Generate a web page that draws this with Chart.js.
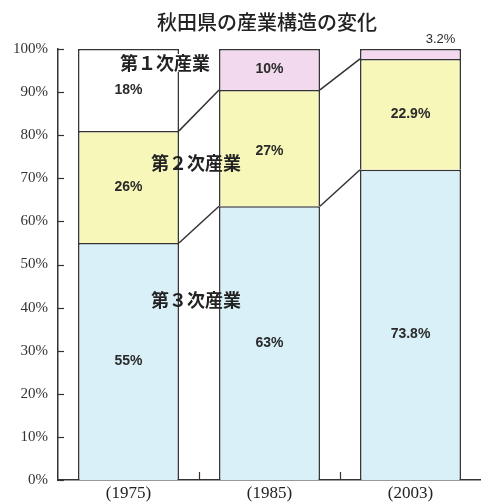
<!DOCTYPE html>
<html>
<head>
<meta charset="utf-8">
<script src="https://cdn.jsdelivr.net/npm/chart.js@4/dist/chart.umd.min.js"></script>
<style>
html,body{margin:0;padding:0;background:#fff;}
#wrap{width:481px;height:504px;}
</style>
</head>
<body>
<div id="wrap"><canvas id="c" width="481" height="504"></canvas></div>
<script>
// ---- data ----
const title = '秋田県の産業構造の変化';
const categories = ['(1975)', '(1985)', '(2003)'];
const tertiary = [55, 63.5, 72];      // 第３次産業 (drawn heights)
const secondary = [26, 27, 25.7];     // 第２次産業
const primary = [19, 9.5, 2.3];       // 第１次産業
const tertiaryLabels = ['55%', '63%', '73.8%'];
const secondaryLabels = ['26%', '27%', '22.9%'];
const primaryLabels = ['18%', '10%', '3.2%'];
const seriesNames = ['第３次産業', '第２次産業', '第１次産業'];
const yTicks = [0, 10, 20, 30, 40, 50, 60, 70, 80, 90, 100];

const BORDER = '#333333';
const sideBorder = {left: 1.5, right: 1.5, top: 1.5, bottom: 0};

const overlay = {
  id: 'overlay',
  afterDatasetsDraw(chart) {
    const ctx = chart.ctx;
    const area = chart.chartArea;
    const xs = chart.scales.x, ys = chart.scales.y;
    ctx.save();
    ctx.strokeStyle = BORDER;
    ctx.lineWidth = 1.5;
    // connecting lines between bars
    [0, 1].forEach(d => {
      const meta = chart.getDatasetMeta(d);
      for (let i = 0; i < meta.data.length - 1; i++) {
        const a = meta.data[i], b = meta.data[i + 1];
        ctx.beginPath();
        ctx.moveTo(a.x + a.width / 2, a.y);
        ctx.lineTo(b.x - b.width / 2, b.y);
        ctx.stroke();
      }
    });
    // inward y ticks
    ctx.lineWidth = 1.2;
    yTicks.forEach(v => {
      const py = Math.round(ys.getPixelForValue(v)) + 0.5;
      ctx.beginPath();
      ctx.moveTo(area.left, py);
      ctx.lineTo(area.left + 6, py);
      ctx.stroke();
    });
    // x boundary ticks
    for (let i = 0; i < categories.length - 1; i++) {
      const px = Math.round((xs.getPixelForValue(i) + xs.getPixelForValue(i + 1)) / 2) + 0.5;
      ctx.beginPath();
      ctx.moveTo(px, area.bottom);
      ctx.lineTo(px, area.bottom - 8);
      ctx.stroke();
    }
    // value labels
    const labelSets = [tertiaryLabels, secondaryLabels, primaryLabels];
    ctx.textAlign = 'center';
    ctx.textBaseline = 'middle';
    ctx.fillStyle = '#2a2a2a';
    labelSets.forEach((labels, d) => {
      const meta = chart.getDatasetMeta(d);
      meta.data.forEach((el, i) => {
        let x = el.x, y = (el.y + el.base) / 2;
        ctx.font = 'bold 14px "Liberation Sans", Arial, sans-serif';
        if (d === 2 && i === 2) {
          ctx.font = '13px "Liberation Sans", Arial, sans-serif';
          x = el.x + 30; y = el.y - 10;
        } else if (d === 0 && i === 2) {
          y += 9;
        } else if (d === 1 && i === 1) {
          y += 3;
        }
        ctx.fillText(labels[i], x, y);
      });
    });
    // series name annotations
    ctx.font = 'bold 18px "Noto Sans CJK JP", sans-serif';
    ctx.fillStyle = '#222';
    const namePos = [[196, 300], [196, 163], [165, 63]];
    seriesNames.forEach((n, d) => {
      const [x, y] = namePos[d];
      if (d === 2) {
        ctx.fillStyle = '#fff';
        ctx.fillRect(x - 44, y - 9, 88, 18);
        ctx.fillStyle = '#222';
      }
      ctx.fillText(n, x, y);
    });
    // title
    ctx.font = '500 20px "Noto Sans CJK JP", sans-serif';
    ctx.fillStyle = '#222';
    ctx.fillText(title, 267, 22);
    ctx.restore();
  }
};

new Chart(document.getElementById('c'), {
  type: 'bar',
  data: {
    labels: categories,
    datasets: [
      {label: seriesNames[0], data: tertiary, backgroundColor: '#d9f0f8',
       borderColor: BORDER, borderWidth: sideBorder, borderSkipped: false},
      {label: seriesNames[1], data: secondary, backgroundColor: '#f6f7b9',
       borderColor: BORDER, borderWidth: sideBorder, borderSkipped: false},
      {label: seriesNames[2], data: primary, backgroundColor: ['#ffffff', '#f2d9ee', '#f2d9ee'],
       borderColor: BORDER, borderWidth: sideBorder, borderSkipped: false}
    ]
  },
  options: {
    responsive: false,
    animation: false,
    events: [],
    layout: {padding: {top: 49, left: 13, right: 0, bottom: 0}},
    datasets: {bar: {barPercentage: 0.716, categoryPercentage: 1}},
    plugins: {legend: {display: false}, title: {display: false}, tooltip: {enabled: false}},
    scales: {
      x: {
        stacked: true,
        grid: {display: false, drawTicks: false},
        border: {display: true, color: BORDER, width: 1.5},
        ticks: {padding: 3, color: '#222', font: {family: '"Liberation Serif", "Times New Roman", serif', size: 17}},
        afterFit(s) { s.height = 24; }
      },
      y: {
        stacked: true,
        min: 0, max: 100,
        afterBuildTicks(s) { s.ticks = yTicks.map(v => ({value: v})); },
        grid: {display: false, drawTicks: false},
        border: {display: true, color: BORDER, width: 1.5},
        ticks: {padding: 10, color: '#333', font: {family: '"Liberation Serif", "Times New Roman", serif', size: 15},
                callback: v => v + '%'},
        afterFit(s) { s.width = 45; }
      }
    }
  },
  plugins: [overlay]
});
</script>
</body>
</html>
